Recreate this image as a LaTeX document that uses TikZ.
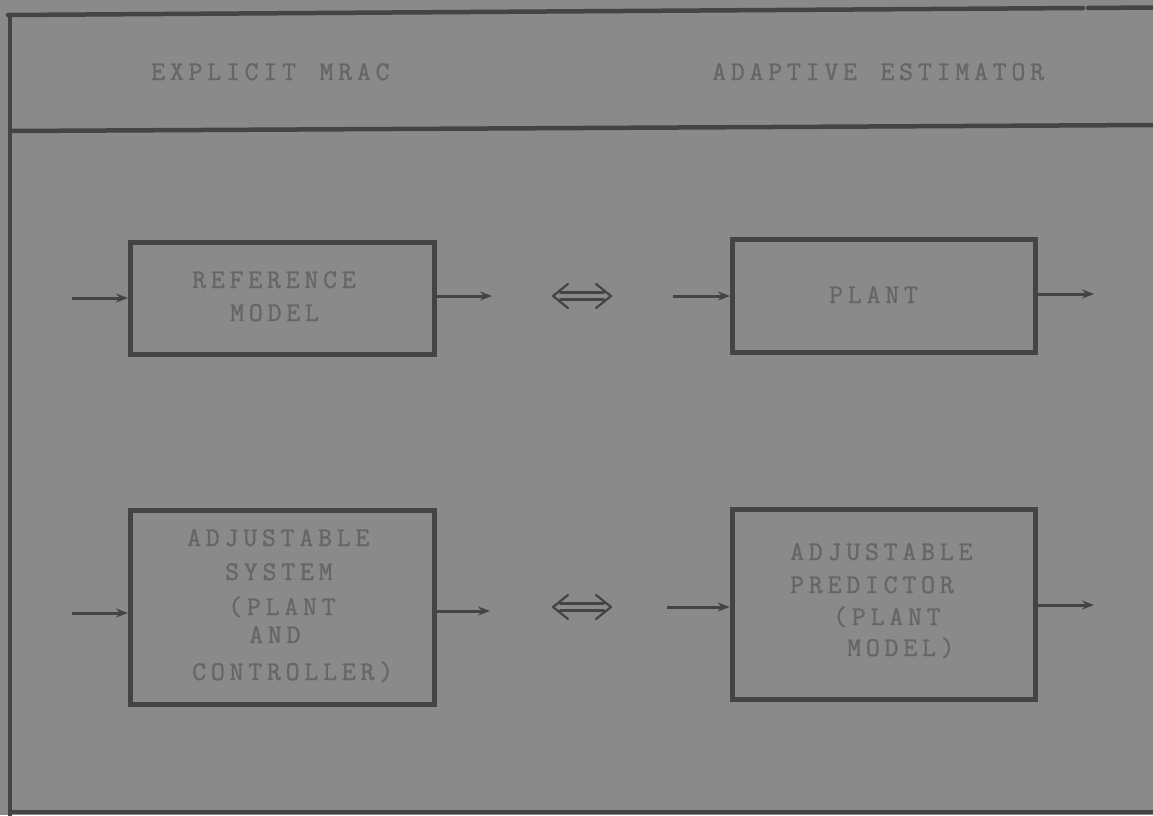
\documentclass[tikz,border=0pt]{standalone}
\usepackage{fontspec}
\usetikzlibrary{arrows.meta}
\definecolor{paper}{HTML}{8A8A8A}
\definecolor{ink}{HTML}{444444}
\definecolor{type}{HTML}{666666}
% spaced-out typewriter lettering: a fixed kern after every character
\newfontfamily\typewriter{Latin Modern Mono}[FakeBold=1.2]
\newcommand\typeface{\fontsize{27}{30}\typewriter}
\def\tracked#1{\trackedstep#1\relax}
\def\trackedstep#1{\ifx#1\relax\else#1\kern4.8pt\expandafter\trackedstep\fi}
\begin{document}
\begin{tikzpicture}[x=1pt,y=-1pt,
  rule/.style={draw=ink,line width=4.5pt,line cap=round},
  blockbox/.style={draw=ink,line width=5pt,minimum width=#1,inner sep=0pt},
  txt/.style={anchor=base west,inner sep=0pt,text=type,font=\typeface},
  sig/.style={draw=ink,line width=3pt,-{Stealth[length=12pt,width=9pt]}},
  equiv/.style={draw=ink,line width=2.2pt,line cap=round,line join=round}]
% page
\fill[paper] (0,0) rectangle (1153,815);
\useasboundingbox (0,0) rectangle (1153,815);
% frame and header divider
\draw[rule] (8,15) -- (1083,8);
\draw[rule] (1088,8) -- (1153,7.5);
\draw[rule] (10,15) -- (10,815);
\draw[rule] (10,131) -- (1153,125);
\draw[rule] (10,812) -- (1153,812);
% headings
\node[txt] (hdrL) at (151,80) {\tracked{EXPLICIT~MRAC}};
\node[txt] (hdrR) at (712,80) {\tracked{ADAPTIVE~ESTIMATOR}};
% blocks
\node[blockbox=304pt,minimum height=112pt] (ref)  at (282.5,298.5) {};
\node[blockbox=303pt,minimum height=113pt] (plant) at (884,296) {};
\node[blockbox=304pt,minimum height=194pt] (sys)  at (282.5,607.5) {};
\node[blockbox=303.5pt,minimum height=190pt] (pred) at (884,604) {};
% block texts
\node[txt] (refA) at (192,288) {\tracked{REFERENCE}};
\node[txt] (refB) at (230,321) {\tracked{MODEL}};
\node[txt] (plantT) at (829,303) {\tracked{PLANT}};
\node[txt] (sysA) at (187,546) {\tracked{ADJUSTABLE}};
\node[txt] (sysB) at (225,580) {\tracked{SYSTEM}};
\node[txt] (sysC) at (228,615) {\tracked{(PLANT}};
\node[txt] (sysD) at (249,643) {\tracked{AND}};
\node[txt] (sysE) at (192,680) {\tracked{CONTROLLER)}};
\node[txt] (predA) at (790,560) {\tracked{ADJUSTABLE}};
\node[txt] (predB) at (790,593) {\tracked{PREDICTOR}};
\node[txt] (predC) at (833,625) {\tracked{(PLANT}};
\node[txt] (predD) at (847,656) {\tracked{MODEL)}};
% free ends of the signal lines
\coordinate (refIn) at (72,298);
\coordinate (refOut) at (492,296);
\coordinate (plantIn) at (673,296);
\coordinate (plantOut) at (1094,294);
\coordinate (sysIn) at (72,613);
\coordinate (sysOut) at (490,611);
\coordinate (predIn) at (667,607);
\coordinate (predOut) at (1094,605);
% signals
\draw[sig] (refIn) -- (refIn -| ref.west);
\draw[sig] (ref.east |- refOut) -- (refOut);
\draw[sig] (plantIn) -- (plantIn -| plant.west);
\draw[sig] (plant.east |- plantOut) -- (plantOut);
\draw[sig] (sysIn) -- (sysIn -| sys.west);
\draw[sig] (sys.east |- sysOut) -- (sysOut);
\draw[sig] (predIn) -- (predIn -| pred.west);
\draw[sig] (pred.east |- predOut) -- (predOut);
% equivalence signs
\coordinate (eqA) at (582,296);
\coordinate (eqB) at (582,607);
\foreach \c in {eqA,eqB}{
  \begin{scope}[shift={(\c)}]
    \draw[equiv] (-22,-3.5) -- (22,-3.5);
    \draw[equiv] (-22,3.5) -- (22,3.5);
    \draw[equiv] (-14,-12) -- (-29,0) -- (-14,12);
    \draw[equiv] (14,-12) -- (29,0) -- (14,12);
  \end{scope}}
\end{tikzpicture}
\end{document}
